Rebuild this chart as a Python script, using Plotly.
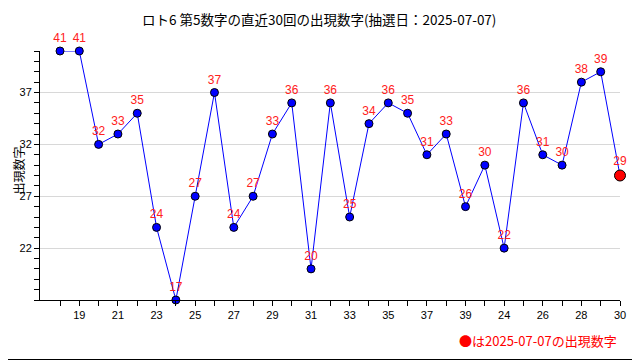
import plotly.graph_objects as go

values = [41, 41, 32, 33, 35, 24, 17, 27, 37, 24, 27, 33, 36, 20, 36,
          25, 34, 36, 35, 31, 33, 26, 30, 22, 36, 31, 30, 38, 39, 29]
draw_index = list(range(1, 31))
tick_labels = ["", "19", "", "21", "", "23", "", "25", "", "27", "", "29", "", "31", "",
               "33", "", "35", "", "37", "", "39", "", "24", "", "26", "", "28", "", "30"]
y_ticks = [22, 27, 32, 37]
title_text = "ロト6 第5数字の直近30回の出現数字(抽選日：2025-07-07)"
y_title = "出現数字"
note_text = "●は2025-07-07の出現数字"

# page body has an 8px margin; lay out in window pixels and subtract it
OFF = 8
W, H = 640 - OFF, 360 - OFF
L, R, T, B = 40 - OFF, 20, 51 - OFF, 60
pw, ph = W - L - R, H - T - B


def px(xw):
    return (xw - OFF - L) / pw


def py(yw):
    return (H - B - (yw - OFF)) / ph


FONT = "Liberation Sans"
CJK = "Noto Sans CJK JP"

fig = go.Figure()
fig.add_trace(go.Scatter(
    x=draw_index, y=values,
    mode="lines", line=dict(color="#0000ff", width=1),
    hoverinfo="skip", showlegend=False, cliponaxis=False))
fig.add_trace(go.Scatter(
    x=draw_index[:-1], y=values[:-1],
    mode="markers+text", text=[str(v) for v in values[:-1]],
    textposition="top center", cliponaxis=False,
    textfont=dict(color="#ff2020", size=12, family=FONT),
    marker=dict(color="#0000ff", size=8, line=dict(color="black", width=1)),
    showlegend=False))
fig.add_trace(go.Scatter(
    x=draw_index[-1:], y=values[-1:],
    mode="markers+text", text=[str(values[-1])],
    textposition="top center", cliponaxis=False,
    textfont=dict(color="#ff2020", size=12, family=FONT),
    marker=dict(color="#ff0000", size=11, line=dict(color="black", width=1)),
    showlegend=False))

fig.update_layout(
    width=W, height=H,
    margin=dict(l=L, r=R, t=T, b=B, autoexpand=False),
    paper_bgcolor="white", plot_bgcolor="white",
    font=dict(family=FONT, size=12, color="black"),
    xaxis=dict(
        range=[1 - 20 / (560 / 29), 30],
        tickmode="array", tickvals=draw_index, ticktext=tick_labels,
        ticks="outside", ticklen=5, tickcolor="black",
        showline=True, linecolor="black", linewidth=1,
        showgrid=False, zeroline=False, automargin=False,
        tickfont=dict(size=11, family=FONT)),
    yaxis=dict(
        range=[17, 41],
        tickmode="array", tickvals=y_ticks,
        ticks="outside", ticklen=5, tickcolor="black",
        minor=dict(dtick=1, tick0=17, ticks="outside", ticklen=5, tickcolor="black", showgrid=False),
        showline=True, linecolor="black", linewidth=1,
        showgrid=True, gridcolor="#d8d8d8", zeroline=False, automargin=False,
        tickfont=dict(size=11, family=FONT)),
    annotations=[
        dict(text=title_text, xref="paper", yref="paper",
             x=px(318.5), y=py(8), showarrow=False, borderpad=0,
             font=dict(size=13.5, family=CJK, color="black"), xanchor="center", yanchor="top"),
        dict(text=y_title, xref="paper", yref="paper", textangle=-90,
             x=px(8), y=py(171), showarrow=False, borderpad=0,
             font=dict(size=12, family=CJK, color="black"), xanchor="left", yanchor="middle"),
        dict(text=note_text, xref="paper", yref="paper",
             x=px(619), y=py(340), showarrow=False,
             font=dict(size=13, family=CJK, color="#ff0000"), xanchor="right", yanchor="middle"),
    ],
    shapes=[dict(type="rect", xref="paper", yref="paper",
                 x0=px(0.5), x1=px(639.5),
                 y0=py(359.5), y1=py(0.5),
                 line=dict(color="black", width=1), layer="above")],
)

fig.write_html("out.html")
